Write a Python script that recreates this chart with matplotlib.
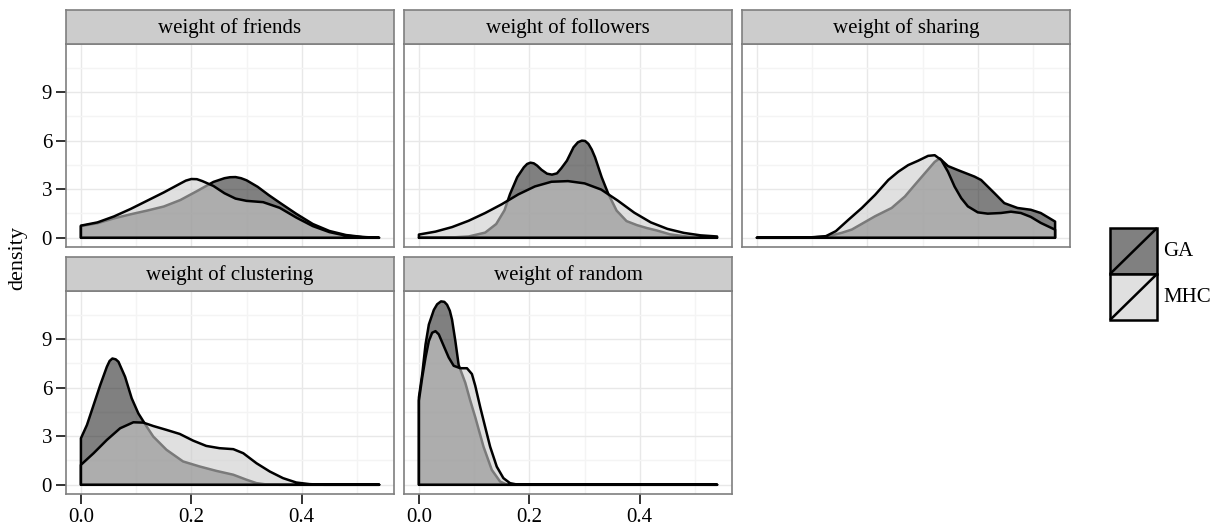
import matplotlib.pyplot as plt
from matplotlib.patches import Rectangle

plt.rcParams['font.family'] = ['Liberation Serif', 'DejaVu Serif']

# facet titles
titles = ["weight of friends", "weight of followers", "weight of sharing",
          "weight of clustering", "weight of random"]
groups = ["GA", "MHC"]

# density curves (x, density)
friends_ga_x = [0, 0.03, 0.06, 0.09, 0.12, 0.15, 0.18, 0.21, 0.24, 0.26, 0.27, 0.28, 0.29, 0.30, 0.32, 0.34, 0.36, 0.39, 0.42, 0.45, 0.48, 0.51, 0.54]
friends_ga_y = [0.72, 0.9, 1.2, 1.45, 1.68, 1.93, 2.33, 2.88, 3.45, 3.68, 3.74, 3.75, 3.68, 3.55, 3.15, 2.64, 2.17, 1.48, 0.85, 0.42, 0.17, 0.05, 0.0]
friends_mhc_x = [0, 0.03, 0.06, 0.09, 0.12, 0.15, 0.18, 0.19, 0.20, 0.21, 0.22, 0.24, 0.26, 0.28, 0.30, 0.33, 0.36, 0.39, 0.42, 0.45, 0.48, 0.51, 0.54]
friends_mhc_y = [0.75, 0.95, 1.32, 1.78, 2.29, 2.8, 3.35, 3.53, 3.63, 3.62, 3.5, 3.2, 2.75, 2.42, 2.28, 2.2, 1.85, 1.25, 0.72, 0.35, 0.13, 0.04, 0.0]

followers_ga_x = [0, 0.06, 0.09, 0.12, 0.14, 0.155, 0.165, 0.178, 0.19, 0.196, 0.202, 0.208, 0.214, 0.222, 0.232, 0.241, 0.25, 0.258, 0.268, 0.28, 0.288, 0.295, 0.301, 0.307, 0.313, 0.319, 0.331, 0.343, 0.358, 0.376, 0.395, 0.413, 0.431, 0.455, 0.485, 0.51, 0.54]
followers_ga_y = [0.0, 0.02, 0.08, 0.32, 0.85, 1.7, 2.7, 3.74, 4.35, 4.56, 4.64, 4.6, 4.46, 4.2, 3.96, 3.9, 3.98, 4.3, 4.76, 5.59, 5.9, 6.0, 5.98, 5.8, 5.45, 4.97, 3.74, 2.71, 1.68, 1.03, 0.78, 0.6, 0.45, 0.21, 0.08, 0.02, 0.0]
followers_mhc_x = [0, 0.03, 0.06, 0.09, 0.12, 0.15, 0.18, 0.21, 0.24, 0.27, 0.30, 0.33, 0.36, 0.39, 0.42, 0.45, 0.48, 0.51, 0.54]
followers_mhc_y = [0.2, 0.38, 0.66, 1.05, 1.53, 2.07, 2.68, 3.17, 3.46, 3.5, 3.36, 2.98, 2.3, 1.55, 0.95, 0.55, 0.3, 0.15, 0.08]

sharing_ga_x = [0, 0.09, 0.125, 0.154, 0.172, 0.214, 0.244, 0.268, 0.286, 0.304, 0.322, 0.331, 0.346, 0.364, 0.394, 0.406, 0.43, 0.448, 0.472, 0.496, 0.514, 0.54]
sharing_ga_y = [0, 0.01, 0.06, 0.31, 0.51, 1.33, 1.84, 2.55, 3.27, 3.98, 4.69, 4.9, 4.43, 4.18, 3.78, 3.57, 2.76, 2.14, 1.84, 1.73, 1.53, 1.0]
sharing_mhc_x = [0, 0.06, 0.095, 0.125, 0.143, 0.166, 0.19, 0.214, 0.238, 0.256, 0.274, 0.292, 0.31, 0.322, 0.334, 0.346, 0.358, 0.37, 0.382, 0.40, 0.418, 0.442, 0.46, 0.478, 0.496, 0.514, 0.54]
sharing_mhc_y = [0, 0, 0.02, 0.1, 0.41, 1.12, 1.84, 2.65, 3.57, 4.08, 4.49, 4.76, 5.06, 5.1, 4.8, 4.08, 3.16, 2.45, 1.94, 1.57, 1.49, 1.53, 1.61, 1.53, 1.29, 0.92, 0.5]

clustering_ga_x = [0, 0.011, 0.023, 0.035, 0.047, 0.052, 0.057, 0.063, 0.068, 0.08, 0.092, 0.104, 0.119, 0.131, 0.155, 0.185, 0.215, 0.245, 0.276, 0.30, 0.318, 0.336, 0.36, 0.54]
clustering_ga_y = [2.87, 3.7, 4.93, 6.16, 7.29, 7.65, 7.8, 7.75, 7.6, 6.67, 5.34, 4.41, 3.6, 2.98, 2.16, 1.44, 1.13, 0.86, 0.62, 0.31, 0.1, 0.02, 0.0, 0.0]
clustering_mhc_x = [0, 0.023, 0.047, 0.071, 0.095, 0.113, 0.131, 0.155, 0.179, 0.203, 0.227, 0.251, 0.276, 0.294, 0.318, 0.342, 0.366, 0.39, 0.414, 0.44, 0.54]
clustering_mhc_y = [1.23, 1.95, 2.77, 3.49, 3.86, 3.84, 3.63, 3.39, 3.14, 2.73, 2.4, 2.26, 2.2, 1.95, 1.33, 0.82, 0.41, 0.14, 0.04, 0.0, 0.0]

random_ga_x = [0, 0.006, 0.012, 0.018, 0.027, 0.033, 0.04, 0.046, 0.051, 0.056, 0.06, 0.066, 0.072, 0.084, 0.093, 0.102, 0.117, 0.132, 0.147, 0.16, 0.54]
random_ga_y = [5.4, 6.84, 8.67, 9.9, 10.8, 11.15, 11.33, 11.3, 11.12, 10.75, 10.2, 8.88, 7.4, 6.3, 5.2, 4.18, 2.35, 0.92, 0.2, 0.0, 0.0]
random_mhc_x = [0, 0.006, 0.012, 0.018, 0.024, 0.03, 0.036, 0.045, 0.054, 0.063, 0.075, 0.087, 0.096, 0.102, 0.111, 0.12, 0.129, 0.141, 0.153, 0.165, 0.177, 0.54]
random_mhc_y = [5.2, 6.63, 7.86, 8.88, 9.39, 9.49, 9.29, 8.57, 7.86, 7.35, 7.2, 7.2, 6.84, 6.12, 4.8, 3.57, 2.35, 1.12, 0.41, 0.1, 0.02, 0.0]

curves = [
    [(friends_ga_x, friends_ga_y), (friends_mhc_x, friends_mhc_y)],
    [(followers_ga_x, followers_ga_y), (followers_mhc_x, followers_mhc_y)],
    [(sharing_ga_x, sharing_ga_y), (sharing_mhc_x, sharing_mhc_y)],
    [(clustering_ga_x, clustering_ga_y), (clustering_mhc_x, clustering_mhc_y)],
    [(random_ga_x, random_ga_y), (random_mhc_x, random_mhc_y)],
]

x_ticks = [0.0, 0.2, 0.4]
x_ticklabels = ["0.0", "0.2", "0.4"]
y_ticks = [0, 3, 6, 9]

fills = [(0.17, 0.17, 0.17, 0.6), (0.8, 0.8, 0.8, 0.6)]
key_colors = ["#808080", "#e0e0e0"]

W, H = 1215, 531
fig = plt.figure(figsize=(W / 100, H / 100), dpi=100)

col_left = [66, 404, 742]
panel_w = 328
rows = [(10, 44, 247), (257, 291, 494)]  # strip top, plot top, plot bottom

for i, title in enumerate(titles):
    r, c = divmod(i, 3)
    st, pt, pb = rows[r]
    x0 = col_left[c]
    ax = fig.add_axes([x0 / W, 1 - pb / H, panel_w / W, (pb - pt) / H])
    sax = fig.add_axes([x0 / W, 1 - pt / H, panel_w / W, (pt - st) / H])

    for k, (xs, ys) in enumerate(curves[i]):
        px = [xs[0]] + list(xs) + [xs[-1]]
        py = [0] + list(ys) + [0]
        ax.fill(px, py, facecolor=fills[k], edgecolor="black", linewidth=1.8,
                joinstyle="round", zorder=2 + k)

    ax.set_xlim(-0.027, 0.567)
    ax.set_ylim(-0.57, 11.97)
    ax.set_xticks(x_ticks)
    ax.set_xticks([0.1, 0.3, 0.5], minor=True)
    ax.set_yticks(y_ticks)
    ax.set_yticks([1.5, 4.5, 7.5, 10.5], minor=True)
    ax.grid(which="major", color="#e8e8e8", linewidth=1.0)
    ax.grid(which="minor", color="#f4f4f4", linewidth=1.0)
    ax.set_axisbelow(True)
    ax.tick_params(which="minor", length=0)
    ax.tick_params(which="major", direction="out", length=7, width=1.4,
                   color="#333333", labelsize=15, pad=3)
    if c == 0:
        ax.set_yticklabels([str(t) for t in y_ticks])
    else:
        ax.tick_params(axis="y", length=0, labelleft=False)
    if r == 1:
        ax.set_xticklabels(x_ticklabels)
    else:
        ax.tick_params(axis="x", length=0, labelbottom=False)
    for s in ax.spines.values():
        s.set_color("#7f7f7f")
        s.set_linewidth(1.2)
        s.set_zorder(5)

    sax.set_facecolor("#cccccc")
    sax.set_xticks([])
    sax.set_yticks([])
    for s in sax.spines.values():
        s.set_color("#7f7f7f")
        s.set_linewidth(1.2)
    sax.text(0.5, 0.47, title, ha="center", va="center", fontsize=15,
             transform=sax.transAxes)

fig.text(18 / W, 1 - 258 / H, "density", rotation=90, ha="center",
         va="center", fontsize=16)

# legend
lax = fig.add_axes([1110 / W, 1 - 320 / H, 47 / W, 92 / H])
lax.set_xlim(0, 1)
lax.set_ylim(0, 2)
lax.axis("off")
for k, g in enumerate(groups):
    yb = 1 - k
    lax.add_patch(Rectangle((0, yb), 1, 1, facecolor=key_colors[k],
                            edgecolor="black", linewidth=1.8, clip_on=False))
    lax.plot([0, 1], [yb, yb + 1], color="black", linewidth=1.8,
             solid_capstyle="butt", clip_on=False)
    fig.text(1163 / W, 1 - (251 + 46 * k) / H, g, ha="left", va="center",
             fontsize=15)

fig.savefig("out.png", dpi=100)
